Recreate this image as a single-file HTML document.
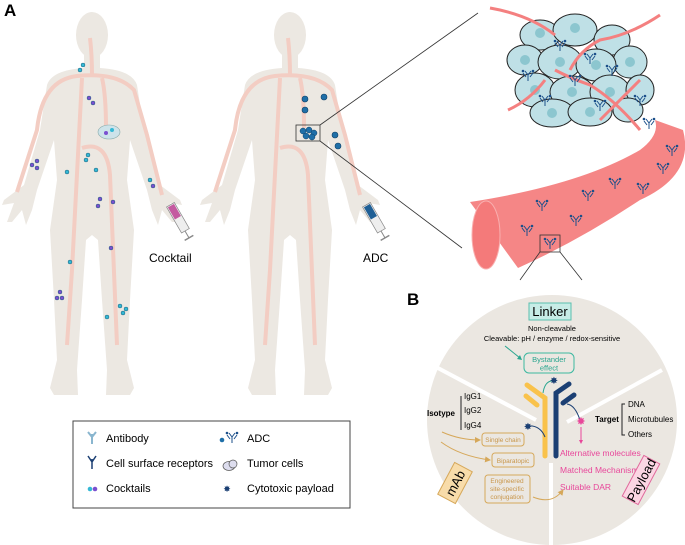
<!DOCTYPE html>
<html><head><meta charset="utf-8"><style>
html,body{margin:0;padding:0;background:#fff}
svg{display:block;font-family:"Liberation Sans",sans-serif}
</style></head><body>
<svg width="685" height="545" viewBox="0 0 685 545" xmlns="http://www.w3.org/2000/svg">
<defs>
<marker id="oa" markerWidth="6" markerHeight="6" refX="5" refY="3" orient="auto"><path d="M0,0 L6,3 L0,6Z" fill="#d6a85a"/></marker>
<g id="body">
<ellipse cx="0" cy="35" rx="16" ry="23" fill="#ece8e2"/>
<path fill="#ece8e2" d="M-8,55 L-8,68 Q-40,70 -45,85 L-52,130 L-68,185 L-88,200 L-90,205 L-78,203 L-85,222 L-80,222 L-70,210 L-66,225 L-60,210 L-55,190 L-38,140 L-35,180 L-42,230 L-38,300 L-35,360 L-42,388 L-38,395 L-14,395 L-15,370 L-10,300 L-6,240 L0,235 L6,240 L10,300 L15,370 L14,395 L38,395 L42,388 L35,360 L38,300 L42,230 L35,180 L38,140 L55,190 L60,210 L66,225 L70,210 L80,222 L85,222 L78,203 L90,205 L88,200 L68,185 L52,130 L45,85 Q40,70 8,68 L8,55 Z"/>
<g fill="none" stroke="#f3cdc3" stroke-width="4">
<path d="M-75,192 L-55,130 Q-50,80 -15,76 Q25,72 42,90 L55,135 L70,195"/>
<path d="M-10,78 L-20,270 L-25,345"/>
<path d="M0,76 Q0,55 -2,38"/>
<path d="M10,78 Q14,95 14,128"/>
<path d="M-10,148 Q15,140 18,175 L25,345"/>
</g>
</g>
<g id="adc" stroke="#1b4f8a" stroke-width="1" fill="none"><path d="M0,0 V6 M0,0 L-3,-4 M0,0 L3,-4 M-5,-2 L-2,2 M5,-2 L2,2"/><circle cx="-5" cy="-4" r=".8" fill="#1b4f8a"/><circle cx="5" cy="-4" r=".8" fill="#1b4f8a"/></g>
</defs>
<rect width="685" height="545" fill="#fff"/>
<text x="4" y="16" font-size="17" font-weight="bold">A</text>
<use href="#body" x="92" y="0"/>
<use href="#body" x="290" y="0"/>
<g stroke="#1b5f7a" stroke-width=".5">
<g fill="#35b8d5"><circle cx="83" cy="65" r="2"/><circle cx="80" cy="70" r="2"/><circle cx="88" cy="155" r="2"/><circle cx="86" cy="160" r="2"/><circle cx="67" cy="172" r="2"/><circle cx="96" cy="170" r="2"/><circle cx="70" cy="262" r="2"/><circle cx="120" cy="306" r="2"/><circle cx="126" cy="309" r="2"/><circle cx="123" cy="313" r="2"/><circle cx="107" cy="317" r="2"/><circle cx="150" cy="180" r="2"/></g>
<g fill="#7b4fd0"><circle cx="89" cy="98" r="2"/><circle cx="93" cy="103" r="2"/><circle cx="32" cy="165" r="2"/><circle cx="37" cy="161" r="2"/><circle cx="37" cy="168" r="2"/><circle cx="100" cy="199" r="2"/><circle cx="98" cy="206" r="2"/><circle cx="113" cy="202" r="2"/><circle cx="111" cy="248" r="2"/><circle cx="60" cy="292" r="2"/><circle cx="57" cy="298" r="2"/><circle cx="62" cy="298" r="2"/><circle cx="153" cy="186" r="2"/></g>
</g>
<ellipse cx="109" cy="132" rx="11" ry="7" fill="#cde3ea" stroke="#8aa" stroke-width=".6"/>
<circle cx="106" cy="133" r="2" fill="#7b4fd0"/><circle cx="112" cy="130" r="2" fill="#35b8d5"/>
<g transform="translate(170,205) rotate(-30)"><rect x="-4" y="0" width="9" height="30" fill="#eee" stroke="#888" stroke-width=".7"/><rect x="-3" y="1" width="7" height="14" fill="#c45aa0"/><line x1="0" y1="30" x2="0" y2="38" stroke="#888"/><line x1="-5" y1="38" x2="5" y2="38" stroke="#888" stroke-width="1.5"/></g>
<g transform="translate(366,205) rotate(-30)"><rect x="-4" y="0" width="9" height="30" fill="#eee" stroke="#888" stroke-width=".7"/><rect x="-3" y="1" width="7" height="14" fill="#1f5f95"/><line x1="0" y1="30" x2="0" y2="38" stroke="#888"/><line x1="-5" y1="38" x2="5" y2="38" stroke="#888" stroke-width="1.5"/></g>
<text x="149" y="262" font-size="12">Cocktail</text>
<text x="363" y="262" font-size="12">ADC</text>
<g fill="#1f6fa8" stroke="#0c3e66" stroke-width=".6"><circle cx="305" cy="99" r="3"/><circle cx="324" cy="97" r="3"/><circle cx="305" cy="110" r="3"/><circle cx="335" cy="135" r="3"/><circle cx="338" cy="146" r="3"/></g>
<rect x="296" y="125" width="24" height="16" fill="none" stroke="#333" stroke-width=".8"/>
<g fill="#1f6fa8" stroke="#0c3e66" stroke-width=".5"><circle cx="303" cy="131" r="3"/><circle cx="309" cy="130" r="3"/><circle cx="314" cy="133" r="3"/><circle cx="306" cy="136" r="3"/><circle cx="312" cy="137" r="3"/></g>
<line x1="320" y1="125" x2="478" y2="13" stroke="#333" stroke-width=".8"/>
<line x1="320" y1="141" x2="462" y2="248" stroke="#333" stroke-width=".8"/>
<path d="M470,202 Q580,185 640,150 Q660,135 655,120 L683,130 Q695,175 640,200 Q580,240 518,268 Z" fill="#f58686"/>
<ellipse cx="486" cy="235" rx="14" ry="34" fill="#f47a7a" stroke="#f9b0b0" stroke-width="1"/>
<g stroke="#222" stroke-width="1" fill="#bfe0e6">
<ellipse cx="540" cy="35" rx="20" ry="15"/><ellipse cx="575" cy="30" rx="22" ry="16"/><ellipse cx="612" cy="40" rx="18" ry="15"/><ellipse cx="630" cy="62" rx="17" ry="16"/>
<ellipse cx="525" cy="60" rx="18" ry="15"/><ellipse cx="560" cy="62" rx="22" ry="17"/><ellipse cx="596" cy="65" rx="20" ry="16"/>
<ellipse cx="535" cy="90" rx="20" ry="17"/><ellipse cx="572" cy="92" rx="22" ry="16"/><ellipse cx="610" cy="92" rx="20" ry="17"/><ellipse cx="640" cy="90" rx="14" ry="15"/>
<ellipse cx="552" cy="113" rx="22" ry="14"/><ellipse cx="590" cy="112" rx="22" ry="14"/><ellipse cx="628" cy="110" rx="15" ry="12"/>
</g>
<g fill="#8cc6cf"><circle cx="540" cy="33" r="5"/><circle cx="575" cy="28" r="5"/><circle cx="560" cy="62" r="5"/><circle cx="596" cy="65" r="5"/><circle cx="535" cy="90" r="5"/><circle cx="572" cy="92" r="5"/><circle cx="610" cy="92" r="5"/><circle cx="552" cy="113" r="5"/><circle cx="590" cy="112" r="5"/><circle cx="525" cy="60" r="5"/><circle cx="630" cy="62" r="5"/></g>
<g fill="none" stroke="#f48080" stroke-width="3"><path d="M490,8 Q530,15 555,35"/><path d="M660,15 Q630,35 600,40 Q580,50 570,70"/><path d="M508,110 Q530,100 545,80"/><path d="M640,130 Q615,100 590,85 Q570,78 555,70"/><path d="M600,120 Q620,100 640,80"/></g>
<g><use href="#adc" x="560" y="45"/><use href="#adc" x="590" y="58"/><use href="#adc" x="575" y="80"/><use href="#adc" x="612" y="70"/><use href="#adc" x="545" y="100"/><use href="#adc" x="600" y="105"/><use href="#adc" x="640" y="100"/><use href="#adc" x="528" y="75"/>
<use href="#adc" x="649" y="123"/><use href="#adc" x="672" y="150"/><use href="#adc" x="663" y="168"/><use href="#adc" x="615" y="183"/><use href="#adc" x="643" y="188"/><use href="#adc" x="588" y="195"/><use href="#adc" x="542" y="205"/><use href="#adc" x="576" y="220"/><use href="#adc" x="527" y="230"/><use href="#adc" x="550" y="243"/></g>
<rect x="540" y="235" width="20" height="17" fill="none" stroke="#333" stroke-width=".8"/>
<line x1="540" y1="252" x2="520" y2="280" stroke="#333" stroke-width=".8"/>
<line x1="560" y1="252" x2="582" y2="280" stroke="#333" stroke-width=".8"/>
<text x="407" y="305" font-size="17" font-weight="bold">B</text>
<circle cx="552" cy="420" r="125" fill="#ebe7e1"/>
<g stroke="#fff" stroke-width="4"><line x1="436" y1="367" x2="536" y2="420"/><line x1="662" y1="370" x2="567" y2="422"/><line x1="551" y1="463" x2="551" y2="545"/></g>
<rect x="529" y="303" width="42" height="17" fill="#c7ece6" stroke="#5bbfae"/>
<text x="550" y="316" font-size="13" text-anchor="middle">Linker</text>
<text x="552" y="331" font-size="7.5" text-anchor="middle">Non-cleavable</text>
<text x="552" y="341" font-size="7.5" text-anchor="middle">Cleavable: pH / enzyme / redox-sensitive</text>
<path d="M505,346 L520,358" stroke="#2aa58f" fill="none"/><path d="M517,359 L522,360 L520,355Z" fill="#2aa58f"/>
<rect x="524" y="353" width="50" height="20" rx="5" fill="none" stroke="#3cb8a0"/>
<text x="549" y="362" font-size="7.5" fill="#2aa58f" text-anchor="middle">Bystander</text>
<text x="549" y="370.5" font-size="7.5" fill="#2aa58f" text-anchor="middle">effect</text>
<g stroke-linecap="round" stroke-width="5" fill="none"><path d="M527,385 L545,398 V456" stroke="#f9c24b"/><path d="M526,396 L537,405" stroke="#f9c24b"/><path d="M569,384 L556,393 V456" stroke="#1b3f73"/><path d="M574,395 L563,403" stroke="#1b3f73"/></g>
<path d="M543,393 Q545,380 554,381" stroke="#2aa58f" fill="none"/>
<path d="M528,426 Q540,425 545,437" stroke="#1b3f73" fill="none"/>
<path d="M567,404 Q575,405 580,420" stroke="#1b3f73" fill="none"/>
<text x="554" y="384" font-size="10" fill="#1b3f73" text-anchor="middle">✸</text>
<text x="528" y="430" font-size="10" fill="#1b3f73" text-anchor="middle">✸</text>
<text x="581" y="425" font-size="11" fill="#e8479a" text-anchor="middle">✸</text>
<line x1="581" y1="427" x2="581" y2="442" stroke="#e8479a"/><path d="M579,440 L581,444 L583,440Z" fill="#e8479a"/>
<g font-size="8.5" fill="#e8479a"><text x="560" y="456">Alternative molecules</text><text x="560" y="473">Matched Mechanism</text><text x="560" y="490">Suitable DAR</text></g>
<g transform="translate(641,480) rotate(-62)"><rect x="-23" y="-9" width="46" height="18" fill="#fbd6e3" stroke="#e06a9c"/><text x="0" y="5" font-size="13" text-anchor="middle">Payload</text></g>
<g transform="translate(455,483) rotate(-62)"><rect x="-18" y="-10" width="36" height="20" fill="#f8dcaa" stroke="#d6a85a"/><text x="0" y="5" font-size="13" text-anchor="middle">mAb</text></g>
<text x="427" y="416" font-size="8" font-weight="bold">Isotype</text>
<path d="M461,396 V430" stroke="#222" fill="none"/>
<g font-size="8"><text x="464" y="399">IgG1</text><text x="464" y="413">IgG2</text><text x="464" y="428">IgG4</text></g>
<text x="595" y="422" font-size="8" font-weight="bold">Target</text>
<path d="M625,404 H622 V435 H625" stroke="#222" fill="none"/>
<g font-size="8"><text x="628" y="407">DNA</text><text x="628" y="422">Microtubules</text><text x="628" y="437">Others</text></g>
<g fill="none" stroke="#d6a85a"><rect x="482" y="433" width="42" height="13" rx="3"/><rect x="492" y="453" width="42" height="14" rx="3"/><rect x="485" y="475" width="45" height="28" rx="3"/>
<path d="M442,432 Q460,440 480,440" marker-end="url(#oa)"/><path d="M441,442 Q460,456 490,460" marker-end="url(#oa)"/><path d="M533,497 Q552,505 563,490" marker-end="url(#oa)"/></g>
<g font-size="6.5" fill="#c8964a" text-anchor="middle"><text x="503" y="442">Single chain</text><text x="513" y="463">Biparatopic</text><text x="507" y="483">Engineered</text><text x="507" y="491">site-specific</text><text x="507" y="499">conjugation</text></g>
<rect x="73" y="421" width="277" height="87" fill="#fff" stroke="#444"/>
<g font-size="11"><text x="106" y="442">Antibody</text><text x="106" y="467">Cell surface receptors</text><text x="106" y="492">Cocktails</text><text x="247" y="442">ADC</text><text x="247" y="467">Tumor cells</text><text x="247" y="492">Cytotoxic payload</text></g>
<path d="M92,434 V444 M92,437 L88,432 M92,437 L96,432" stroke="#8ab6cf" stroke-width="2" fill="none"/>
<path d="M92,459 V469 M92,462 L88,456 M92,462 L96,456" stroke="#1b3f73" stroke-width="1.5" fill="none"/>
<circle cx="90" cy="489" r="2.3" fill="#35b8d5"/><circle cx="95" cy="489" r="2.3" fill="#7b4fd0"/>
<circle cx="222" cy="440" r="2.3" fill="#1f6fa8"/><use href="#adc" x="232" y="437"/>
<ellipse cx="229" cy="466" rx="6" ry="4.5" fill="#dde" stroke="#555" stroke-width=".7"/><ellipse cx="233" cy="464" rx="4" ry="4" fill="#dde" stroke="#555" stroke-width=".7"/>
<text x="227" y="492" font-size="9" fill="#1b3f73" text-anchor="middle">✸</text>
</svg>
</body></html>
